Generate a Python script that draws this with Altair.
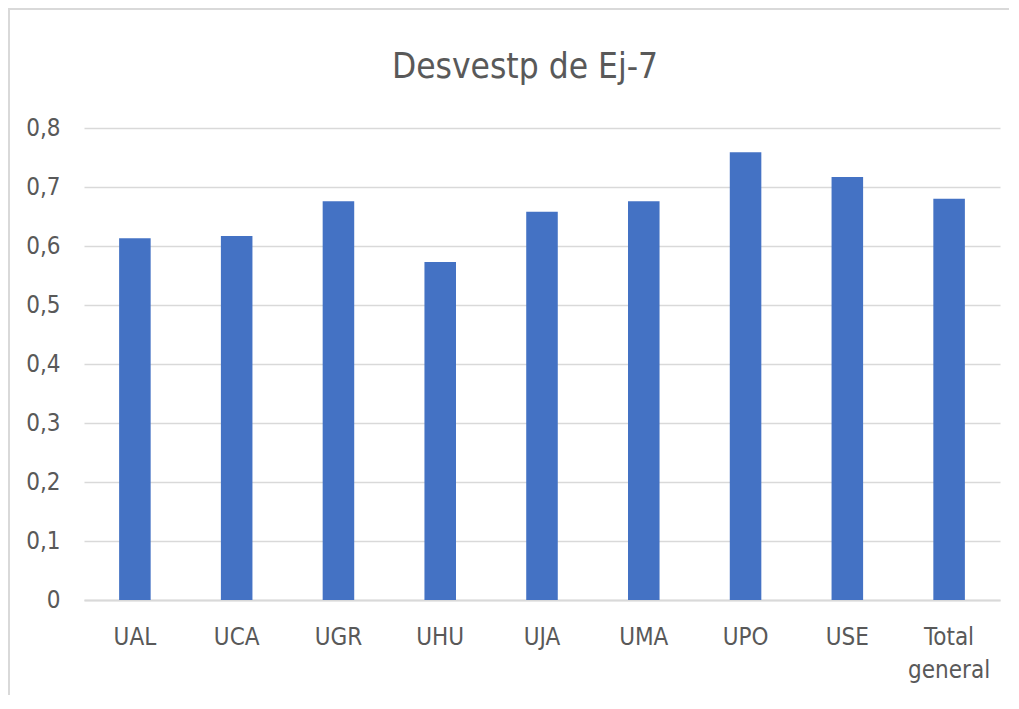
import altair as alt
import pandas as pd

categories = ["UAL", "UCA", "UGR", "UHU", "UJA", "UMA", "UPO", "USE", "Total general"]
values = [0.613, 0.617, 0.676, 0.573, 0.658, 0.676, 0.759, 0.717, 0.680]

df = pd.DataFrame({"cat": categories, "val": values})

FONT = "Liberation Sans Narrow, DejaVu Sans Condensed, Roboto Condensed, Roboto, sans-serif"
TXT = "#595959"
GRID = "#d9d9d9"

bars = alt.Chart(df).mark_bar(color="#4472C4").encode(
    x=alt.X(
        "cat:N",
        sort=categories,
        title=None,
        scale=alt.Scale(paddingInner=0.69, paddingOuter=0.345),
        axis=alt.Axis(
            labelAngle=0,
            labelFont=FONT,
            labelFontSize=24,
            labelColor=TXT,
            labelPadding=25,
            labelLineHeight=33,
            labelExpr="datum.label == 'Total general' ? ['Total', 'general'] : datum.label",
            ticks=False,
            domain=True,
            domainColor=GRID,
            domainWidth=2,
            grid=False,
        ),
    ),
    y=alt.Y(
        "val:Q",
        title=None,
        scale=alt.Scale(domain=[0, 0.8], nice=False),
        axis=alt.Axis(
            values=[0, 0.1, 0.2, 0.3, 0.4, 0.5, 0.6, 0.7, 0.8],
            labelExpr="datum.value == 0 ? '0' : replace(format(datum.value, '.1f'), '.', ',')",
            labelFont=FONT,
            labelFontSize=24,
            labelColor=TXT,
            labelPadding=24,
            ticks=False,
            domain=False,
            grid=True,
            gridColor=GRID,
            gridWidth=1.6,
        ),
    ),
)

one = alt.Data(values=[{}])
border_left = alt.Chart(one).mark_rule(color="#d9d9d9", strokeWidth=2).encode(
    x=alt.value(-75), y=alt.value(-119), y2=alt.value(600)
)
border_top = alt.Chart(one).mark_rule(color="#d9d9d9", strokeWidth=2).encode(
    x=alt.value(-76), x2=alt.value(925), y=alt.value(-119), y2=alt.value(-119)
)

chart = alt.layer(bars, border_left, border_top).properties(
    width=916,
    height=472,
    title=alt.TitleParams(
        "Desvestp de Ej-7",
        font=FONT,
        fontSize=35,
        fontWeight="normal",
        color=TXT,
        anchor="middle",
        baseline="alphabetic",
        dx=-17,
        offset=-105,
    ),
    autosize=alt.AutoSizeParams(type="none"),
    padding={"left": 76, "top": 120, "right": 10, "bottom": 95},
).configure(background="white").configure_view(stroke=None, strokeWidth=0)

chart.save("out.html", embed_options={"renderer": "svg", "actions": False})
